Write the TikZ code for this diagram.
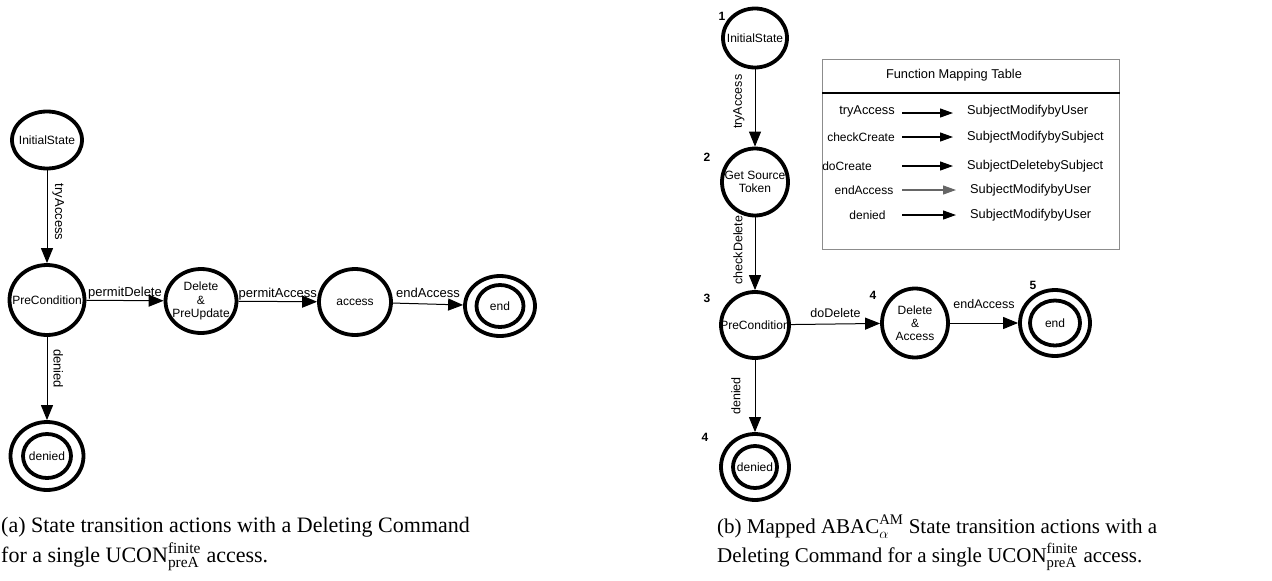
\documentclass[tikz,border=0pt]{standalone}
\usepackage{fontspec}
\setmainfont{Liberation Serif}
\newfontfamily\diagfont{Liberation Sans}
\usetikzlibrary{shapes.geometric,arrows.meta}

\tikzset{
  state/.style={ellipse, draw, line width=3.8pt, inner sep=0pt},
  ring/.style={ellipse, draw, line width=3.8pt, inner sep=0pt},
  stext/.style={font=\diagfont\fontsize{12}{13.2}\selectfont, align=center, inner sep=0pt},
  trans/.style={draw, line width=1pt, -{Triangle[length=15pt, width=12pt]}},
  labA/.style={font=\diagfont\fontsize{13}{15}\selectfont, inner sep=1pt},
  labB/.style={font=\diagfont\fontsize{12.5}{14}\selectfont, inner sep=1pt},
  num/.style={font=\diagfont\bfseries\fontsize{12}{14}\selectfont, inner sep=0pt},
  mapbox/.style={draw=black!45, line width=1pt, inner sep=0pt, anchor=north west},
  maptext/.style={font=\diagfont\fontsize{12}{14}\selectfont, inner sep=0pt},
  mapfunc/.style={font=\diagfont\fontsize{12.8}{14}\selectfont, inner sep=0pt, anchor=west},
  maparrow/.style={draw, line width=1.2pt, -{Triangle[length=13pt, width=9pt]}},
  captext/.style={font=\fontsize{22}{26}\selectfont, inner sep=0pt, anchor=base west},
  captextb/.style={font=\fontsize{21}{25}\selectfont, inner sep=0pt, anchor=base west},
}

\begin{document}
\begin{tikzpicture}[x=1pt, y=-1pt]
\useasboundingbox[fill=white] (0,0) rectangle (1272,581);

% ---------------- (a) UCON state transitions ----------------
\node[state, minimum width=70pt, minimum height=57pt,
      label={[stext]center:InitialState}] (initA) at (47,140) {};
\node[state, minimum width=75pt, minimum height=70pt,
      label={[stext]center:PreCondition}] (preA) at (47,300) {};
\node[state, minimum width=71pt, minimum height=64pt,
      label={[stext]center:Delete\\\&\\PreUpdate}] (delA) at (201,301) {};
\node[state, minimum width=72pt, minimum height=66pt,
      label={[stext]center:access}] (accA) at (355,302) {};
\node[state, minimum width=70pt, minimum height=60pt] (endA) at (500,306) {};
\node[ring, minimum width=47pt, minimum height=42pt,
      label={[stext]center:end}] (endAin) at (endA) {};
\node[state, minimum width=73pt, minimum height=68pt] (denA) at (47,456) {};
\node[ring, minimum width=48pt, minimum height=44pt,
      label={[stext]center:denied}] (denAin) at (denA) {};

\draw[trans] (initA) -- node[labA, pos=0.45, anchor=south, rotate=-90, inner ysep=5pt] {tryAccess} (preA);
\draw[trans] (preA) -- node[labA, midway, above] {permitDelete} (delA);
\draw[trans] (delA) -- node[labA, midway, above] {permitAccess} (accA);
\draw[trans] (accA) -- node[labA, midway, above=5pt] {endAccess} (endA);
\draw[trans] (preA) -- node[labA, pos=0.38, anchor=south, rotate=-90, inner ysep=6pt] {denied} (denA);

% ---------------- (b) mapped ABAC state transitions ----------------
\node[state, minimum width=64pt, minimum height=59pt,
      label={[stext]center:InitialState}] (initB) at (755,38) {};
\node[state, minimum width=66pt, minimum height=67pt,
      label={[stext]center:Get Source\\Token}] (gstB) at (755,182) {};
\node[state, minimum width=68pt, minimum height=66pt,
      label={[stext]center:PreCondition}] (preB) at (755,325) {};
\node[state, minimum width=66pt, minimum height=69pt,
      label={[stext]center:Delete\\\&\\Access}] (delB) at (915,323) {};
\node[state, minimum width=70pt, minimum height=66pt] (endB) at (1055,323) {};
\node[ring, minimum width=50pt, minimum height=45pt,
      label={[stext]center:end}] (endBin) at (endB) {};
\node[state, minimum width=68pt, minimum height=66pt] (denB) at (755,467) {};
\node[ring, minimum width=44pt, minimum height=42pt,
      label={[stext]center:denied}] (denBin) at (denB) {};

\node[num] (n1) at (722,16) {1};
\node[num] (n2) at (707,157) {2};
\node[num] (n3) at (707,298) {3};
\node[num] (n4) at (873,295) {4};
\node[num] (n5) at (1033,285) {5};
\node[num] (n6) at (705,437) {4};

\draw[trans] (initB) -- node[labB, pos=0.42, anchor=south, rotate=90, inner ysep=10pt] {tryAccess} (gstB);
\draw[trans] (gstB) -- node[labB, pos=0.45, anchor=south, rotate=90, inner ysep=12pt] {checkDelete} (preB);
\draw[trans] (preB) -- node[labB, midway, above=5pt] {doDelete} (delB);
\draw[trans] (delB) -- node[labB, midway, above=13pt] {endAccess} (endB);
\draw[trans] (preB) -- node[labB, midway, anchor=south, rotate=90, inner ysep=14pt] {denied} (denB);

% ---------------- function mapping table ----------------
\node[mapbox, minimum width=297pt, minimum height=190pt] (tbl) at (822,59) {};
\draw[line width=1.2pt] ([yshift=-34pt]tbl.north west) -- ([yshift=-34pt]tbl.north east);
\node[font=\diagfont\fontsize{12.8}{14}\selectfont, inner sep=0pt] (title) at (954,75) {Function Mapping Table};

\coordinate (mapL) at (902,0);
\coordinate (mapR) at (953,0);
\coordinate (mapR2) at (956,0);

\node[maptext, font=\diagfont\fontsize{12.8}{14}\selectfont] (l1) at (867,111) {tryAccess};
\node[maptext] (l2) at (861,137) {checkCreate};
\node[maptext] (l3) at (847,166) {doCreate};
\node[maptext] (l4) at (864,190) {endAccess};
\node[maptext] (l5) at (867.5,215) {denied};

\node[mapfunc] (r1) at (967,111) {SubjectModifybyUser};
\node[mapfunc] (r2) at (967,137) {SubjectModifybySubject};
\node[mapfunc] (r3) at (967,166) {SubjectDeletebySubject};
\node[mapfunc] (r4) at (970,190) {SubjectModifybyUser};
\node[mapfunc] (r5) at (970,215) {SubjectModifybyUser};

\draw[maparrow] ([yshift=-2pt]l1 -| mapL) -- ([yshift=-2pt]r1 -| mapR);
\draw[maparrow] (l2 -| mapL) -- (r2 -| mapR);
\draw[maparrow] (l3 -| mapL) -- (r3 -| mapR);
\draw[maparrow, draw=black!60] (l4 -| mapL) -- (r4 -| mapR2);
\draw[maparrow] (l5 -| mapL) -- (r5 -| mapR2);

% ---------------- captions ----------------
\node[captext] (capA1) at (1,532) {(a) State transition actions with a Deleting Command};
\node[captext] (capA2) at (1,562) {for a single $\mathrm{UCON}^{\mathrm{finite}}_{\mathrm{preA}}$ access.};
\node[captextb] (capB1) at (717,533) {(b) Mapped $\mathrm{ABAC}^{\mathrm{AM}}_{\alpha}$ State transition actions with a};
\node[captextb] (capB2) at (717,562) {Deleting Command for a single $\mathrm{UCON}^{\mathrm{finite}}_{\mathrm{preA}}$ access.};
\end{tikzpicture}
\end{document}
